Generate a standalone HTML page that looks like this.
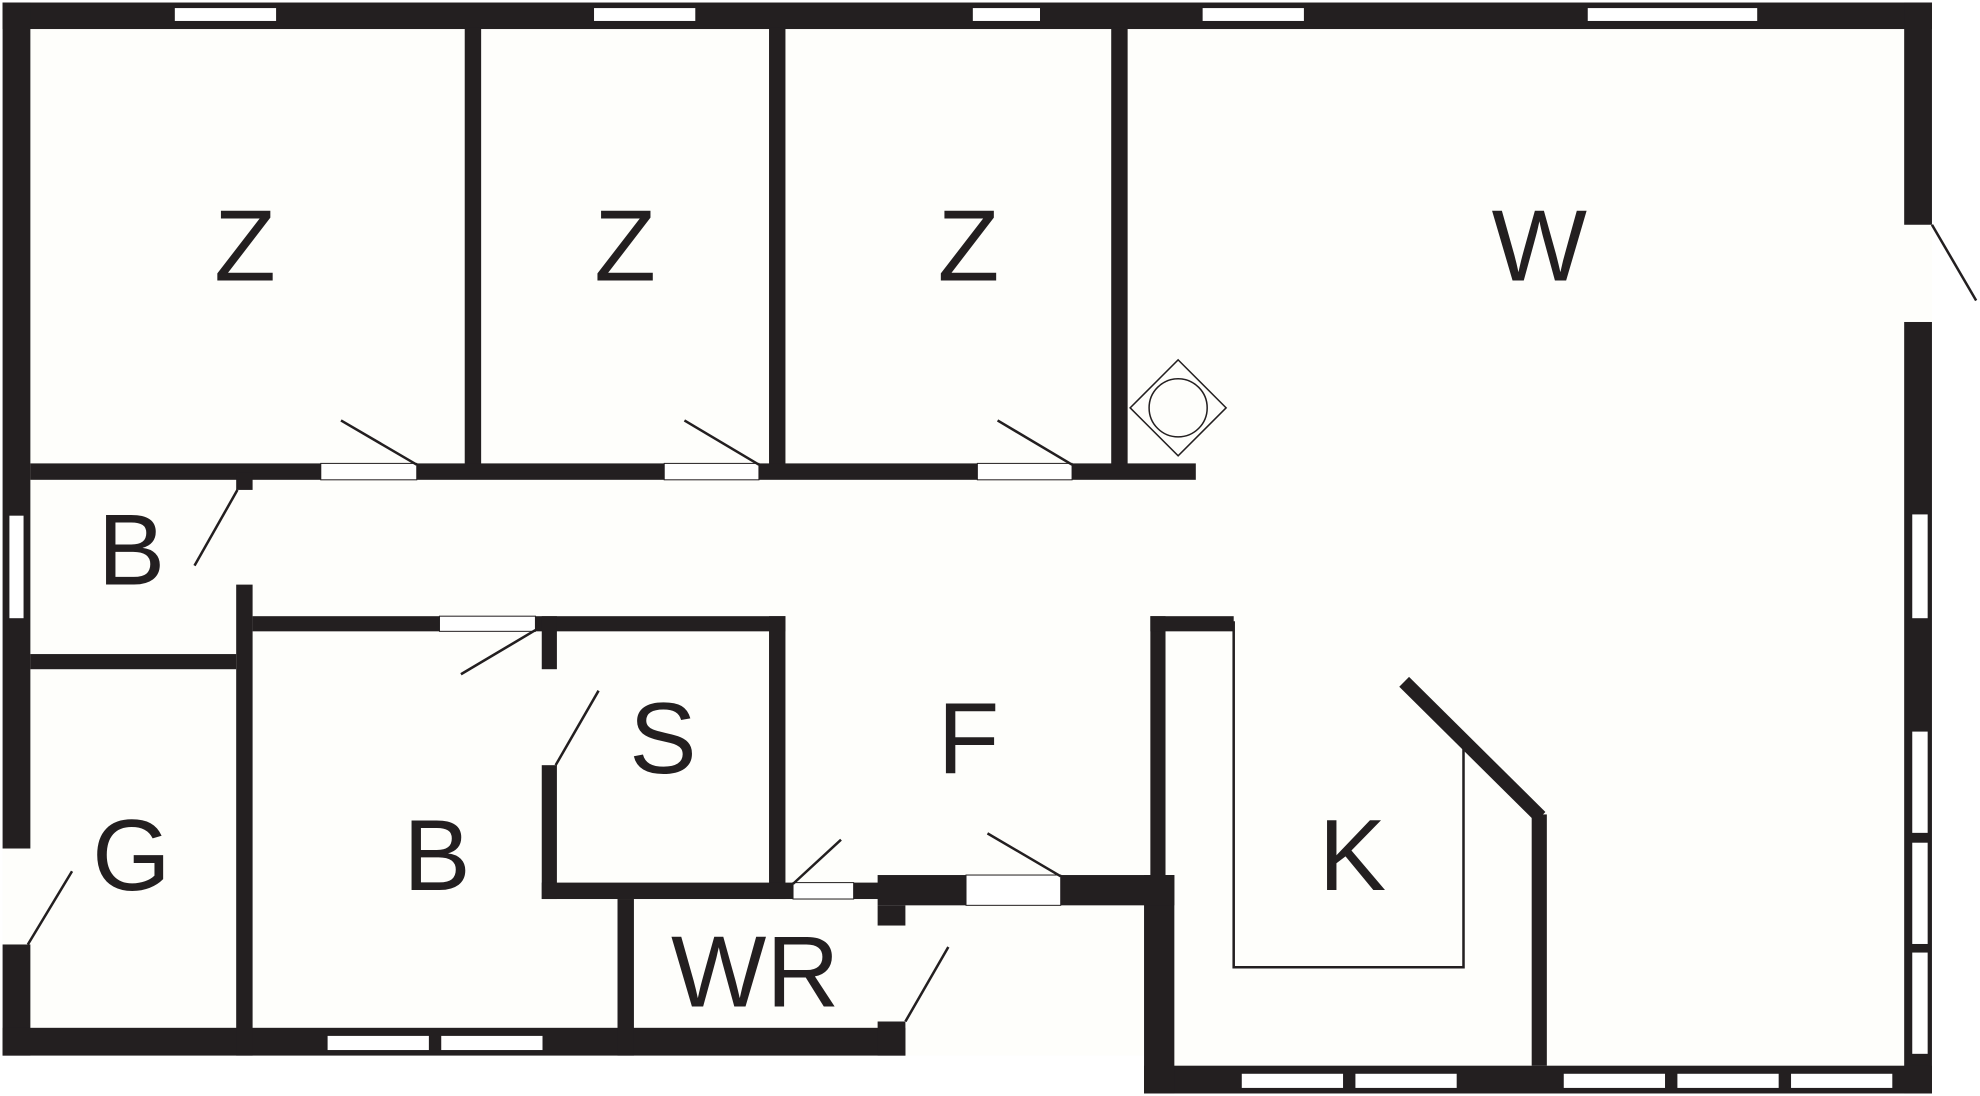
<!DOCTYPE html>
<html><head><meta charset="utf-8"><style>html,body{margin:0;padding:0;background:#fff}svg{display:block}</style></head>
<body>
<svg width="1980" height="1096" viewBox="0 0 1568 868" xmlns="http://www.w3.org/2000/svg">
<rect width="1568" height="868" fill="#fff"/>
<rect x="2" y="2" width="1528" height="864" fill="#fefefb" stroke="none"/>
<rect x="717" y="836" width="190" height="32" fill="#fff"/>
<rect x="0" y="836" width="906" height="32" fill="#fff"/>
<g fill="#231f20">
<!-- outer walls -->
<rect x="2" y="2" width="1528" height="21"/>
<rect x="2" y="2" width="22" height="670"/>
<rect x="2" y="748" width="22" height="88"/>
<rect x="2" y="814" width="715" height="22"/>
<rect x="1508" y="2" width="22" height="176"/>
<rect x="1508" y="255" width="22" height="611"/>
<rect x="906" y="844" width="624" height="22"/>
<rect x="906" y="693" width="24" height="173"/>
<rect x="911" y="488" width="12" height="205"/>
<rect x="911" y="488" width="66" height="12"/>
<!-- interior -->
<rect x="368" y="22" width="13" height="352"/>
<rect x="609" y="22" width="13" height="352"/>
<rect x="880" y="22" width="13" height="352"/>
<rect x="24" y="367" width="923" height="13"/>
<rect x="187" y="374" width="13" height="14"/>
<rect x="187" y="463" width="13" height="373"/>
<rect x="24" y="518" width="163" height="12"/>
<rect x="200" y="488" width="422" height="12"/>
<rect x="429" y="488" width="12" height="42"/>
<rect x="429" y="606" width="12" height="106"/>
<rect x="609" y="488" width="13" height="224"/>
<rect x="429" y="699" width="199" height="13"/>
<rect x="676" y="699" width="20" height="13"/>
<rect x="695" y="693" width="70" height="24"/>
<rect x="840" y="693" width="90" height="24"/>
<rect x="489" y="712" width="13" height="124"/>
<rect x="695" y="717" width="22" height="16"/>
<rect x="695" y="809" width="22" height="27"/>
<rect x="1213" y="645" width="12" height="199"/>
</g>
<line x1="1112" y1="540" x2="1220" y2="647" stroke="#231f20" stroke-width="11"/>
<!-- white gaps / windows -->
<g fill="#fff" stroke="#231f20" stroke-width="0.8">
<rect x="138" y="6" width="81" height="11"/><rect x="470" y="6" width="81" height="11"/>
<rect x="770" y="6" width="54" height="11"/><rect x="952" y="6" width="81" height="11"/>
<rect x="1257" y="6" width="135" height="11"/>
<rect x="7" y="408" width="12" height="82"/>
<rect x="259" y="820" width="81" height="12"/><rect x="349" y="820" width="81" height="12"/>
<rect x="1514" y="407" width="13" height="83"/><rect x="1514" y="579" width="13" height="81"/>
<rect x="1514" y="667" width="13" height="81"/><rect x="1514" y="754" width="13" height="81"/>
<rect x="983" y="850" width="81" height="12"/><rect x="1073" y="850" width="81" height="12"/>
<rect x="1238" y="850" width="81" height="12"/><rect x="1328" y="850" width="81" height="12"/>
<rect x="1418" y="850" width="81" height="12"/>
<rect x="254" y="367" width="76" height="13"/><rect x="526" y="367" width="75" height="13"/>
<rect x="774" y="367" width="75" height="13"/>
<rect x="348" y="488" width="76" height="12"/>
<rect x="765" y="693" width="75" height="24"/>
<rect x="628" y="699" width="48" height="13"/>
</g>
<!-- thin lines -->
<g stroke="#231f20" stroke-width="2" fill="none">
<line x1="270" y1="333" x2="330" y2="368"/>
<line x1="542" y1="333" x2="601" y2="368"/>
<line x1="790" y1="333" x2="849" y2="368"/>
<line x1="188" y1="388" x2="154" y2="448"/>
<line x1="424" y1="499" x2="365" y2="534"/>
<line x1="440" y1="606" x2="474" y2="547"/>
<line x1="628" y1="700" x2="666" y2="665"/>
<line x1="782" y1="660" x2="840" y2="694"/>
<line x1="717" y1="809" x2="751" y2="750"/>
<line x1="22" y1="748" x2="57" y2="690"/>
<line x1="1530" y1="178" x2="1565" y2="238"/>
<polyline points="977,492 977,766 1159,766 1159,592"/>
<polygon points="933,285 971,323 933,361 895,323" stroke-width="1.2"/>
<circle cx="933" cy="323" r="23" stroke-width="1.2"/>
</g>
<g font-family="Liberation Sans, sans-serif" font-size="80" fill="#231f20" text-anchor="middle">
<text x="194" y="222">Z</text><text x="495" y="222">Z</text><text x="767" y="222">Z</text>
<text x="1219" y="222">W</text>
<text x="104" y="463">B</text><text x="525" y="612">S</text><text x="767" y="612">F</text>
<text x="104" y="705">G</text><text x="346" y="705">B</text><text x="1071" y="705">K</text>
<text x="598" y="797">WR</text>
</g>
</svg>
</body></html>
